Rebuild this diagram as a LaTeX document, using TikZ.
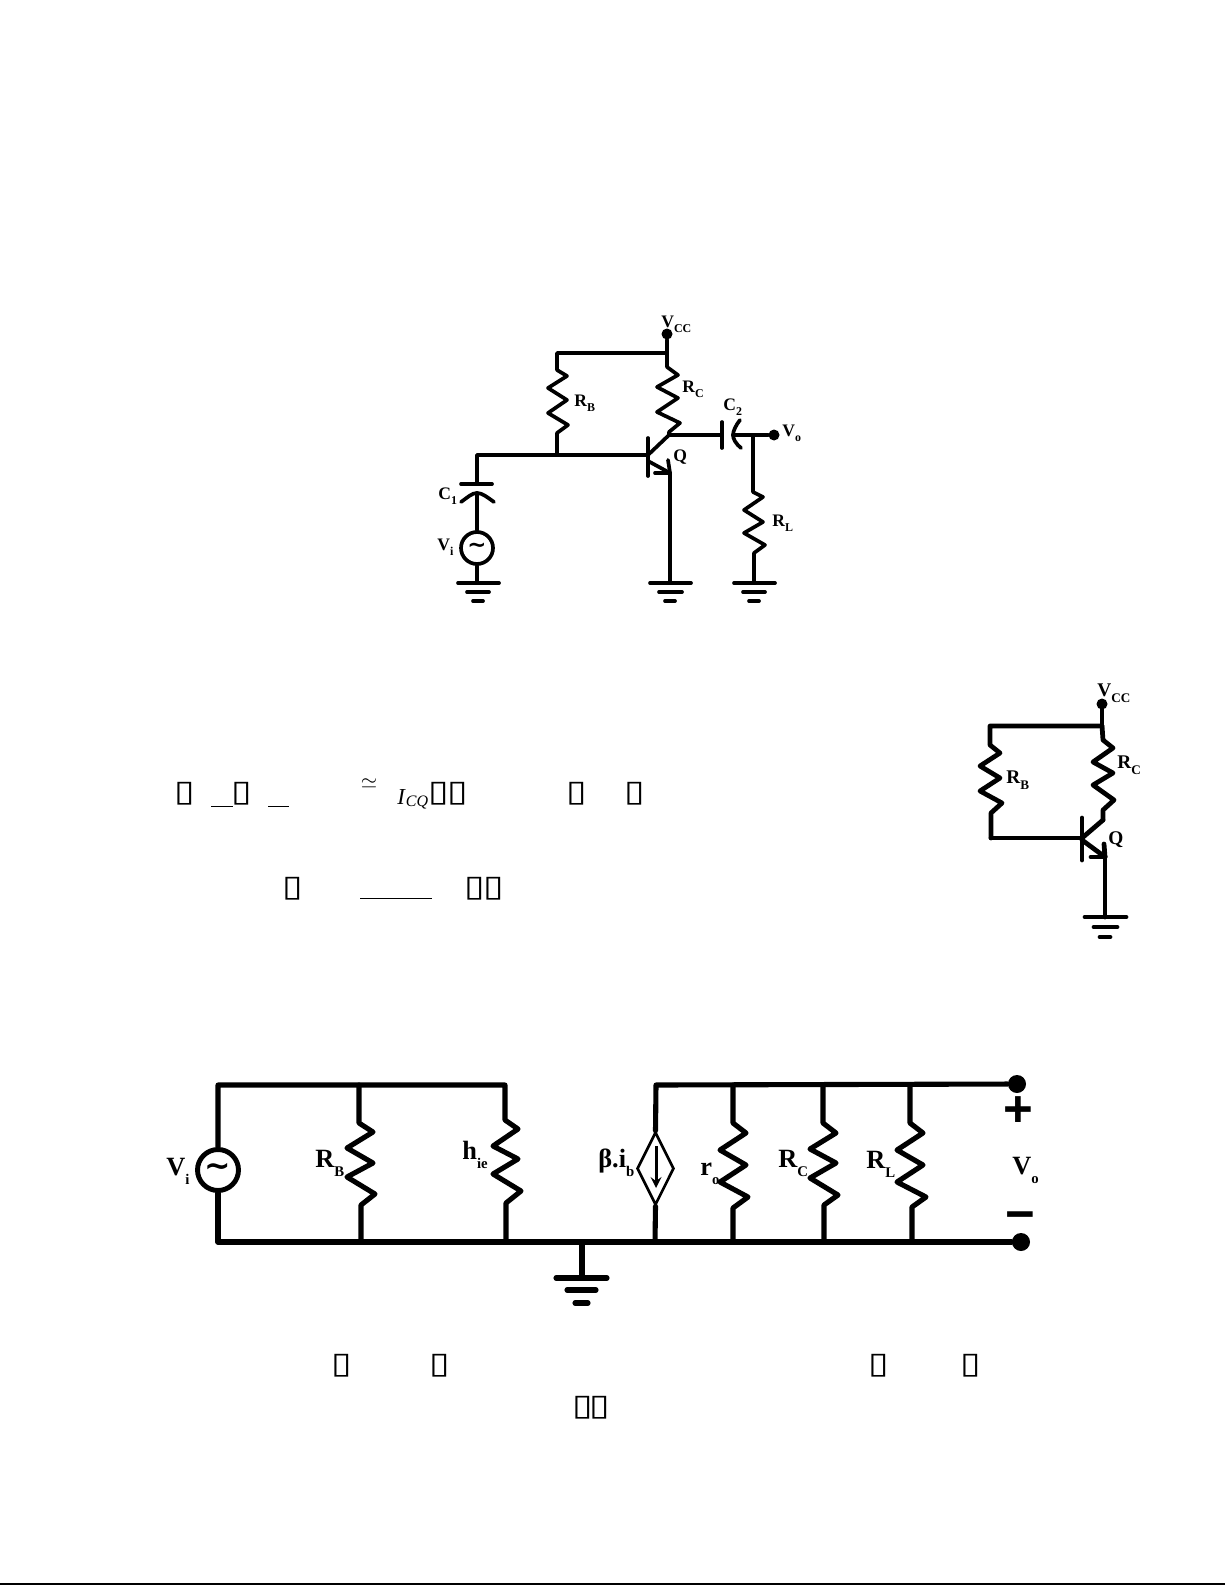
\documentclass[tikz,border=0pt]{standalone}
\usepackage{fontspec}
\setmainfont{Liberation Serif}
\newfontfamily\boxfont{DejaVu Sans}
\newfontfamily\signfont{Liberation Sans}
\usetikzlibrary{shapes.geometric, arrows, positioning}
\tikzstyle{wire} = [line width=2.1pt, line join=round, line cap=round]
\tikzstyle{wirea} = [line width=2.7pt, line join=round, line cap=round]
\tikzstyle{wireb} = [line width=2.9pt, line join=round, line cap=round]
\tikzstyle{thin} = [line width=0.5pt]
\tikzstyle{dot} = [circle, fill=black, inner sep=0pt, minimum size=0.22cm]
\tikzstyle{dotb} = [circle, fill=black, inner sep=0pt, minimum size=0.36cm]
\tikzstyle{acsource} = [circle, draw=black, line width=2.1pt, inner sep=0pt, minimum size=0.64cm, font=\boxfont\bfseries\fontsize{13}{13}\selectfont]
\tikzstyle{acsourceb} = [circle, draw=black, line width=2.8pt, inner sep=0pt, minimum size=0.82cm, font=\boxfont\bfseries\fontsize{18}{18}\selectfont]
\tikzstyle{lbl} = [anchor=base west, inner sep=0pt, font=\bfseries\fontsize{10}{11}\selectfont]
\tikzstyle{lbla} = [anchor=base west, inner sep=0pt, font=\bfseries\fontsize{11}{12}\selectfont]
\tikzstyle{lblb} = [anchor=base west, inner sep=0pt, font=\bfseries\fontsize{15}{17}\selectfont]
\tikzstyle{tofu} = [inner sep=0pt, font=\boxfont\fontsize{17}{17}\selectfont]
\tikzstyle{sign} = [inner sep=0pt, font=\signfont\bfseries\fontsize{29}{29}\selectfont]
\newcommand{\subl}[1]{\raisebox{-.32em}{\scalebox{.68}{#1}}}
\newcommand{\subs}[1]{\raisebox{-.36em}{\scalebox{.56}{#1}}}
\newcommand{\tofubox}{\scalebox{1.25}[1]{▯}}
\begin{document}
\begin{tikzpicture}[x=0.02cm, y=-0.02cm]

    \useasboundingbox (0,0) rectangle (1225,1585);
    \fill[white] (0,0) rectangle (1225,1585);
    \fill[black] (0,1583) rectangle (1225,1585);

    % Circuit, top
    \node (vcc) [dot] at (667,334) {};
    \coordinate (railtop) at (667,353);
    \coordinate (railleft) at (557,353);
    \coordinate (rbbot) at (557,455);
    \coordinate (baseleft) at (477,455);
    \coordinate (base) at (648,455);
    \coordinate (c1top) at (477,484);
    \coordinate (c1l) at (461,484);
    \coordinate (c1r) at (492,484);
    \coordinate (c1bl) at (461,502);
    \coordinate (c1bm) at (477,493);
    \coordinate (c1br) at (494,502);
    \node (vi) [acsource] at (477,548) {\char"007E};
    \coordinate (gndi) at (477,583);
    \coordinate (rctop) at (667,367);
    \coordinate (coll) at (669,435);
    \coordinate (c2l) at (722,435);
    \coordinate (c2m) at (733,435);
    \node (vout) [dot] at (774,435) {};
    \coordinate (rljoin) at (753,435);
    \coordinate (rlbot) at (754,583);
    \coordinate (emit) at (670,473);
    \coordinate (gndq) at (670,583);

    \draw [wire] (vcc) -- (railtop);
    \draw [wire] (railtop) -- (railleft) -- (557,370) -- ++(10,6) -- ++(-19,12) -- ++(19,12) -- ++(-19,13) -- ++(20,12) -- ++(-11,8) -- (rbbot);
    \draw [wire] (c1top) -- (baseleft) -- (base);
    \draw [wire] (c1l) -- (c1r);
    \draw [wire] (c1bl) .. controls (468,497) and (472,493) .. (c1bm) .. controls (482,493) and (487,497) .. (c1br);
    \draw [wire] (c1bm) -- (vi);
    \draw [wire] (vi) -- (gndi);
    \draw [wire] (458,583) -- (499,583);
    \draw [wire] (467,592) -- (489,592);
    \draw [wire] (473,601) -- (483,601);
    \draw [wire] (railtop) -- (rctop) -- ++(11,8) -- ++(-21,12) -- ++(21,11) -- ++(-21,14) -- ++(23,11) -- ++(-11,9) -- (coll);
    \draw [wire] (648,438) -- (648,476);
    \draw [wire] (base) -- (coll);
    \draw [wire] (coll) -- (c2l);
    \draw [wire] (722,422) -- (722,448);
    \draw [wire] (740,420) .. controls (736,425) and (733,431) .. (c2m) .. controls (733,439) and (736,444) .. (741,448);
    \draw [wire] (c2m) -- (vout);
    \draw [wire] (rljoin) -- (753,492) -- ++(10,5) -- ++(-19,13) -- ++(19,12) -- ++(-19,11) -- ++(21,12) -- ++(-11,8) -- (rlbot);
    \draw [wire] (734,583) -- (775,583);
    \draw [wire] (743,592) -- (765,592);
    \draw [wire] (749,601) -- (759,601);
    \draw [wire] (648,461) -- (emit);
    \draw [wire] (668,460) -- (emit);
    \draw [wire] (655,473) -- (emit);
    \draw [wire] (emit) -- (gndq);
    \draw [wire] (650,583) -- (691,583);
    \draw [wire] (659,592) -- (682,592);
    \draw [wire] (665,601) -- (675,601);

    \node (lvcc) [lbl] at (661,327) {V\subl{CC}};
    \node (lrb) [lbl] at (574,406) {R\subl{B}};
    \node (lrc) [lbl] at (682,392) {R\subl{C}};
    \node (lc2) [lbl] at (723,410) {C\subl{2}};
    \node (lvo) [lbl] at (782,436) {V\subl{o}};
    \node (lq) [lbl] at (673,461) {Q};
    \node (lc1) [lbl] at (438,499) {C\subl{1}};
    \node (lvi) [lbl] at (437,550) {V\subl{i}};
    \node (lrl) [lbl] at (772,526) {R\subl{L}};

    % Circuit, right
    \node (vcca) [dot] at (1102,704) {};
    \coordinate (railtopa) at (1102,726);
    \coordinate (raillefta) at (990,726);
    \coordinate (rbbota) at (991,838);
    \coordinate (basea) at (1082,838);
    \coordinate (colla) at (1103,820);
    \coordinate (emita) at (1105,857);
    \coordinate (gnda) at (1105,917);

    \draw [wirea] (vcca) -- (railtopa);
    \draw [wirea] (railtopa) -- (raillefta) -- (990,745) -- ++(10,8) -- ++(-20,13) -- ++(20,12) -- ++(-20,13) -- ++(22,12) -- ++(-11,10) -- (rbbota);
    \draw [wirea] (rbbota) -- (basea);
    \draw [wirea] (1082,818) -- (1082,860);
    \draw [wirea] (railtopa) -- (1103,740) -- ++(10,8) -- ++(-20,14) -- ++(20,11) -- ++(-20,12) -- ++(21,15) -- ++(-11,10) -- (colla);
    \draw [wirea] (basea) -- (colla);
    \draw [wirea] (1082,840) -- (emita);
    \draw [wirea] (1104,844) -- (emita);
    \draw [wirea] (1091,857) -- (emita);
    \draw [wirea] (emita) -- (gnda);
    \draw [wirea] (1085,917) -- (1126,917);
    \draw [wirea] (1094,927) -- (1117,927);
    \draw [wirea] (1100,937) -- (1110,937);

    \node (lvcca) [lbla] at (1097,696) {V\subl{CC}};
    \node (lrba) [lbla] at (1006,783) {R\subl{B}};
    \node (lrca) [lbla] at (1117,768) {R\subl{C}};
    \node (lqa) [lbla] at (1108,844) {Q};

    % Equations
    \node (t1) [tofu] at (185,794) {\tofubox};
    \node (t2) [tofu] at (242,794) {\tofubox};
    \node (t3) [tofu] at (439,794) {\tofubox};
    \node (t4) [tofu] at (458,794) {\tofubox};
    \node (t5) [tofu] at (577,794) {\tofubox};
    \node (t6) [tofu] at (635,794) {\tofubox};
    \node (t7) [tofu] at (293,889) {\tofubox};
    \node (t8) [tofu] at (475,889) {\tofubox};
    \node (t9) [tofu] at (494,889) {\tofubox};
    \node (t10) [tofu] at (342,1366) {\tofubox};
    \node (t11) [tofu] at (440,1366) {\tofubox};
    \node (t12) [tofu] at (879,1366) {\tofubox};
    \node (t13) [tofu] at (971,1366) {\tofubox};
    \node (t14) [tofu] at (583,1408) {\tofubox};
    \node (t15) [tofu] at (600,1408) {\tofubox};
    \node (simeq) [inner sep=0pt, font=\fontsize{13}{13}\selectfont] at (369,784) {$\simeq$};
    \node (icq) [anchor=base west, inner sep=0pt, font=\fontsize{13}{13}\selectfont] at (397,804) {\textit{I}\raisebox{-.12em}{\scalebox{.7}{\textit{CQ}}}};
    \draw [thin] (211,806) -- (233,806);
    \draw [thin] (268,806) -- (289,806);
    \draw [thin] (360,898) -- (432,898);

    % Circuit, bottom
    \coordinate (tl) at (218,1085);
    \coordinate (tr) at (505,1085);
    \coordinate (bl) at (218,1242);
    \coordinate (rbt) at (359,1085);
    \coordinate (rbb) at (361,1242);
    \coordinate (hib) at (506,1242);
    \coordinate (st) at (656,1085);
    \coordinate (sb) at (655,1242);
    \coordinate (rot) at (733,1085);
    \coordinate (rob) at (733,1242);
    \coordinate (rct) at (823,1085);
    \coordinate (rcb) at (824,1242);
    \coordinate (rlt) at (910,1085);
    \coordinate (rlb) at (912,1242);
    \coordinate (gb) at (582,1242);
    \coordinate (gbe) at (582,1278);
    \node (vib) [acsourceb] at (218,1170) {\char"007E};
    \node (dt) [dotb] at (1017,1084) {};
    \node (db) [dotb] at (1021,1242) {};
    \node (dep) [diamond, draw=black, line width=1.5pt, inner sep=0pt, minimum width=0.74cm, minimum height=1.46cm] at (655.5,1168.5) {};
    \coordinate (depa) at (656,1146);
    \coordinate (depb) at (656,1188);

    \draw [wireb] (vib) -- (tl) -- (tr) -- (505,1120) -- ++(13,9) -- ++(-25,17) -- ++(25,13) -- ++(-25,15) -- ++(28,17) -- ++(-15,12) -- (hib);
    \draw [wireb] (vib) -- (bl) -- (db);
    \draw [wireb] (rbt) -- (359,1123) -- ++(14,9) -- ++(-26,16) -- ++(26,15) -- ++(-26,14) -- ++(28,17) -- ++(-14,11) -- (rbb);
    \draw [wireb] (dt) -- (st) -- (dep.north);
    \draw [wireb] (dep.south) -- (sb);
    \draw [line width=1.7pt, ->, >=stealth] (depa) -- (depb);
    \draw [wireb] (rot) -- (733,1123) -- ++(13,10) -- ++(-26,17) -- ++(26,15) -- ++(-26,17) -- ++(28,15) -- ++(-15,11) -- (rob);
    \draw [wireb] (rct) -- (823,1123) -- ++(13,10) -- ++(-26,16) -- ++(26,14) -- ++(-26,15) -- ++(28,17) -- ++(-14,10) -- (rcb);
    \draw [wireb] (rlt) -- (910,1123) -- ++(13,10) -- ++(-26,17) -- ++(26,15) -- ++(-26,17) -- ++(29,15) -- ++(-14,10) -- (rlb);
    \draw [wireb] (gb) -- (gbe);
    \draw [wireb] (556,1278) -- (607,1278);
    \draw [wireb] (567,1290) -- (596,1290);
    \draw [wireb] (575,1303) -- (588,1303);

    \node (lvib) [lblb] at (166,1175) {V\subs{i}};
    \node (lrbb) [lblb] at (315,1167) {R\subs{B}};
    \node (lhie) [lblb] at (462,1159) {h\subs{ie}};
    \node (lbeta) [lblb] at (598,1167) {β.i\subs{b}};
    \node (lro) [lblb] at (700,1175) {r\subs{o}};
    \node (lrcb) [lblb] at (778,1167) {R\subs{C}};
    \node (lrlb) [lblb] at (866,1168) {R\subs{L}};
    \node (lvob) [lblb] at (1012,1174) {V\subs{o}};
    \node (plus) [sign] at (1018,1112) {+};
    \node (minus) [sign] at (1020,1222) {−};

\end{tikzpicture}
\end{document}
